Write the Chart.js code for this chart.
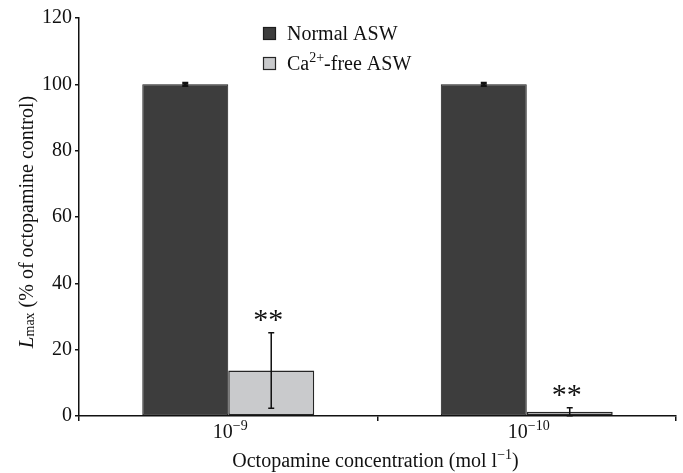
<!DOCTYPE html>
<html>
<head>
<meta charset="utf-8">
<script src="https://cdn.jsdelivr.net/npm/chart.js@4.4.0/dist/chart.umd.min.js"></script>
<style>
  html, body { margin: 0; padding: 0; background: #fff; }
  #wrap { width: 683px; height: 473px; }
</style>
</head>
<body>
<div id="wrap"><canvas id="chart"></canvas></div>
<script>
// Data
const categories = ['10^-9', '10^-10'];
const tickBase = ['10', '10'];
const tickExp = ['\u22129', '\u221210'];
const normalValues = [100, 100];
const normalErrors = [0.4, 0.4];
const cafreeValues = [13.7, 1.3];
const cafreeErrors = [11.4, 1.2];
const cafreeStars = ['**', '**'];
const yMin = 0, yMax = 120, yStep = 20;

const SERIF = "'Liberation Serif', 'Times New Roman', serif";
const colors = {
  dark: '#3d3d3d',
  darkBorder: '#1c1c1c',
  light: '#c9cacc',
  lightBorder: '#262626',
  ink: '#111'
};

// error bars + significance stars
const errorBarPlugin = {
  id: 'errorBars',
  afterDatasetsDraw(chart) {
    const ctx = chart.ctx;
    const y = chart.scales.y;
    chart.data.datasets.forEach((ds, di) => {
      const meta = chart.getDatasetMeta(di);
      meta.data.forEach((bar, i) => {
        const v = ds.data[i], e = ds.errors[i];
        const top = y.getPixelForValue(v + e);
        const bot = y.getPixelForValue(v - e);
        ctx.save();
        ctx.strokeStyle = colors.ink;
        ctx.lineWidth = di === 0 ? 2.5 : 1.5;
        ctx.beginPath();
        ctx.moveTo(bar.x, top); ctx.lineTo(bar.x, bot);
        ctx.moveTo(bar.x - 3, top); ctx.lineTo(bar.x + 3, top);
        ctx.moveTo(bar.x - 3, bot); ctx.lineTo(bar.x + 3, bot);
        ctx.stroke();
        if (ds.stars && ds.stars[i]) {
          ctx.fillStyle = colors.ink;
          ctx.font = '30px ' + SERIF;
          ctx.textAlign = 'center';
          ctx.textBaseline = 'middle';
          ctx.fillText(ds.stars[i], bar.x - 3, top - 12);
        }
        ctx.restore();
      });
    });
  }
};

// draw text with a superscript/subscript run
function drawRuns(ctx, runs, x, y, align) {
  let w = 0;
  runs.forEach(r => { ctx.font = r.font; w += ctx.measureText(r.text).width; });
  let cx = align === 'center' ? x - w / 2 : x;
  runs.forEach(r => {
    ctx.font = r.font;
    ctx.fillText(r.text, cx, y + (r.dy || 0));
    cx += ctx.measureText(r.text).width;
  });
}

const labelsPlugin = {
  id: 'customLabels',
  afterDraw(chart) {
    const ctx = chart.ctx;
    const xs = chart.scales.x;
    const area = chart.chartArea;
    const main = '20px ' + SERIF;
    const small = '14px ' + SERIF;
    ctx.save();
    ctx.fillStyle = colors.ink;
    ctx.textBaseline = 'alphabetic';
    ctx.textAlign = 'left';

    // x tick labels
    categories.forEach((c, i) => {
      const px = xs.getPixelForValue(i);
      drawRuns(ctx, [
        { text: tickBase[i], font: main },
        { text: tickExp[i], font: small, dy: -8 }
      ], px + 2, area.bottom + 22, 'center');
    });

    // x axis title
    drawRuns(ctx, [
      { text: 'Octopamine concentration (mol l', font: main },
      { text: '\u22121', font: small, dy: -8 },
      { text: ')', font: main }
    ], (area.left + area.right) / 2 - 2, 467, 'center');

    // y axis title
    ctx.save();
    ctx.translate(33, 222);
    ctx.rotate(-Math.PI / 2);
    drawRuns(ctx, [
      { text: 'L', font: 'italic 21px ' + SERIF },
      { text: 'max', font: small, dy: 1 },
      { text: ' (% of octopamine control)', font: main }
    ], 0, 0, 'center');
    ctx.restore();

    // legend
    const legend = [
      { fill: colors.dark, border: colors.darkBorder, y: 33,
        runs: [{ text: 'Normal ASW', font: main }] },
      { fill: colors.light, border: colors.lightBorder, y: 63,
        runs: [
          { text: 'Ca', font: main },
          { text: '2+', font: small, dy: -8 },
          { text: '-free ASW', font: main }
        ] }
    ];
    legend.forEach(item => {
      ctx.fillStyle = item.fill;
      ctx.fillRect(263.5, item.y - 5.5, 12, 12);
      ctx.strokeStyle = item.border;
      ctx.lineWidth = 1.2;
      ctx.strokeRect(263.5, item.y - 5.5, 12, 12);
      ctx.fillStyle = colors.ink;
      drawRuns(ctx, item.runs, 287, item.y + 7, 'left');
    });
    ctx.restore();
  }
};

new Chart(document.getElementById('chart'), {
  type: 'bar',
  data: {
    labels: categories,
    datasets: [
      {
        label: 'Normal ASW',
        data: normalValues,
        errors: normalErrors,
        backgroundColor: colors.dark,
        borderColor: colors.darkBorder,
        borderWidth: 1,
        borderSkipped: false
      },
      {
        label: 'Ca2+-free ASW',
        data: cafreeValues,
        errors: cafreeErrors,
        stars: cafreeStars,
        backgroundColor: colors.light,
        borderColor: colors.lightBorder,
        borderWidth: 1.5,
        borderSkipped: false
      }
    ]
  },
  options: {
    responsive: true,
    maintainAspectRatio: false,
    animation: false,
    datasets: {
      bar: { categoryPercentage: 0.576, barPercentage: 1 }
    },
    layout: { padding: { top: 18, right: 7, left: 0, bottom: 0 } },
    plugins: {
      legend: { display: false },
      tooltip: { enabled: false }
    },
    scales: {
      y: {
        min: yMin,
        max: yMax,
        ticks: {
          stepSize: yStep,
          color: colors.ink,
          padding: 3,
          font: { family: SERIF, size: 20 }
        },
        grid: {
          drawOnChartArea: false,
          drawTicks: true,
          tickLength: 4,
          color: colors.ink,
          lineWidth: 1.5
        },
        border: { color: colors.ink, width: 1.5 },
        afterFit(scale) { scale.width = 79; }
      },
      x: {
        ticks: { display: false },
        grid: {
          drawOnChartArea: false,
          drawTicks: true,
          tickLength: 5,
          color: colors.ink,
          lineWidth: 1.5
        },
        border: { color: colors.ink, width: 1.5 },
        afterFit(scale) { scale.height = 57; }
      }
    }
  },
  plugins: [errorBarPlugin, labelsPlugin]
});
</script>
</body>
</html>
